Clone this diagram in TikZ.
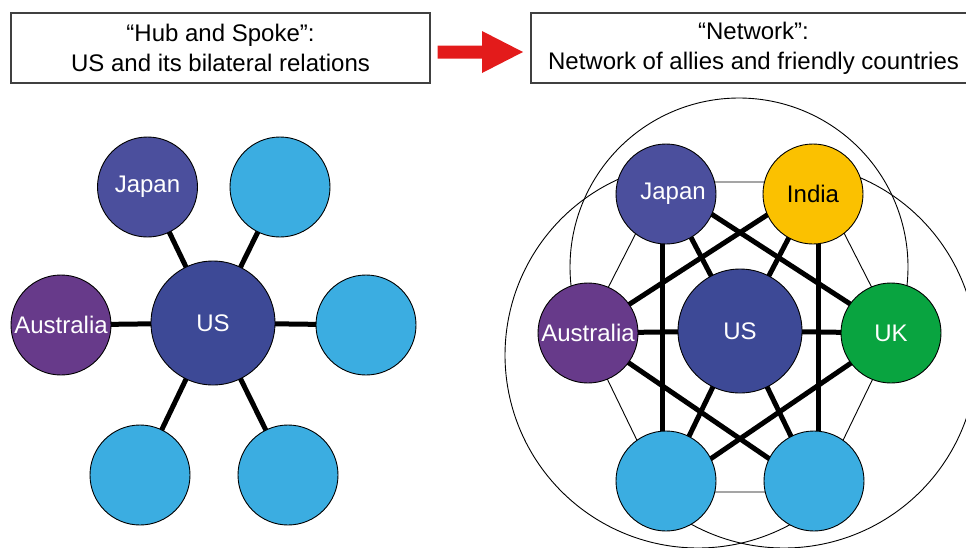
\documentclass[tikz,border=0pt]{standalone}
\usepackage{fontspec}
\setmainfont{Liberation Sans}
\usetikzlibrary{backgrounds}
\definecolor{cJapan}{HTML}{4B4F9D}
\definecolor{cUS}{HTML}{3D4996}
\definecolor{cAus}{HTML}{673A8A}
\definecolor{cBlue}{HTML}{3BADE1}
\definecolor{cIndia}{HTML}{FBC100}
\definecolor{cUK}{HTML}{09A440}
\definecolor{cRed}{HTML}{E31B1B}
\begin{document}
\begin{tikzpicture}[x=1pt,y=-1pt,
  country/.style={circle, draw=black, line width=0.9pt, minimum size=100pt, inner sep=0pt, font=\fontsize{24}{28}\selectfont, text=white},
  hub/.style={country, minimum size=124pt, fill=cUS},
  thinedge/.style={line width=0.9pt},
  thickedge/.style={line width=5pt},
  header/.style={draw=black!75, line width=1.2pt, minimum width=419pt, minimum height=70pt, align=center, font=\fontsize{24}{30}\selectfont, inner sep=0pt}]
\useasboundingbox (0,0) rectangle (966,547);

% headers
\node[header] (hL) at (220.5,48) {“Hub and Spoke”:\\US and its bilateral relations};
\node[header, minimum width=445pt] (hR) at (753.5,48) {“Network”:\\Network of allies and friendly countries};
\fill[cRed] (437.5,45.5) -- (482,45.5) -- (482,31) -- (523,52) -- (482,73) -- (482,58.5) -- (437.5,58.5) -- cycle;

% left diagram
\node[hub] (lUS) at (213,323) {US};
\node[country, fill=cJapan] (lJapan) at (147.5,187) {Japan};
\node[country, fill=cBlue] (lTR) at (280,187) {};
\node[country, fill=cAus] (lAus) at (61,325) {Australia};
\node[country, fill=cBlue] (lR) at (366,325) {};
\node[country, fill=cBlue] (lBL) at (140,475) {};
\node[country, fill=cBlue] (lBR) at (288,475) {};
\begin{scope}[on background layer]
  \foreach \n in {lJapan,lTR,lAus,lR,lBL,lBR}
    \draw[thickedge] (lUS.center) -- (\n.center);
\end{scope}

% right diagram
\node[hub] (rUS) at (740,331) {US};
\node[country, fill=cJapan] (rJapan) at (666,194) {\hspace*{14pt}Japan};
\node[country, fill=cIndia, text=black] (rIndia) at (813,194) {India};
\node[country, fill=cAus] (rAus) at (588,333) {Australia};
\node[country, fill=cUK] (rUK) at (891,333) {UK};
\node[country, fill=cBlue] (rBL) at (666,481) {};
\node[country, fill=cBlue] (rBR) at (814,481) {};

\coordinate (hJ) at (662,182);
\coordinate (hI) at (818,182);
\coordinate (hUK) at (895,333);
\coordinate (hBR) at (818,492);
\coordinate (hBL) at (662,492);
\coordinate (hAU) at (585,333);

\begin{scope}[on background layer]
  % large arcs joining opposite countries
  \draw[thinedge] plot[domain=-15:195, samples=90, smooth] ({739+169*cos(\x)},{267-169*sin(\x)});
  \draw[thinedge] plot[domain=100:312, samples=90, smooth] ({698+193*cos(\x)},{355-193*sin(\x)});
  \draw[thinedge] plot[domain=80:-132, samples=90, smooth] ({784+193*cos(\x)},{355-193*sin(\x)});
  % hexagon
  \draw[thinedge] (hJ) -- (hI) -- (hUK) -- (hBR) -- (hBL) -- (hAU) -- cycle;
  % spokes
  \foreach \n in {hJ,hI,hUK,hBR,hBL,hAU}
    \draw[thickedge] (rUS.center) -- (\n);
  % second neighbours
  \draw[thickedge] (hJ) -- (hBL);
  \draw[thickedge] (hI) -- (hBR);
  \draw[thickedge] (hJ) -- (hUK);
  \draw[thickedge] (hI) -- (hAU);
  \draw[thickedge] (hAU) -- (hBR);
  \draw[thickedge] (hUK) -- (hBL);
\end{scope}
\end{tikzpicture}
\end{document}
